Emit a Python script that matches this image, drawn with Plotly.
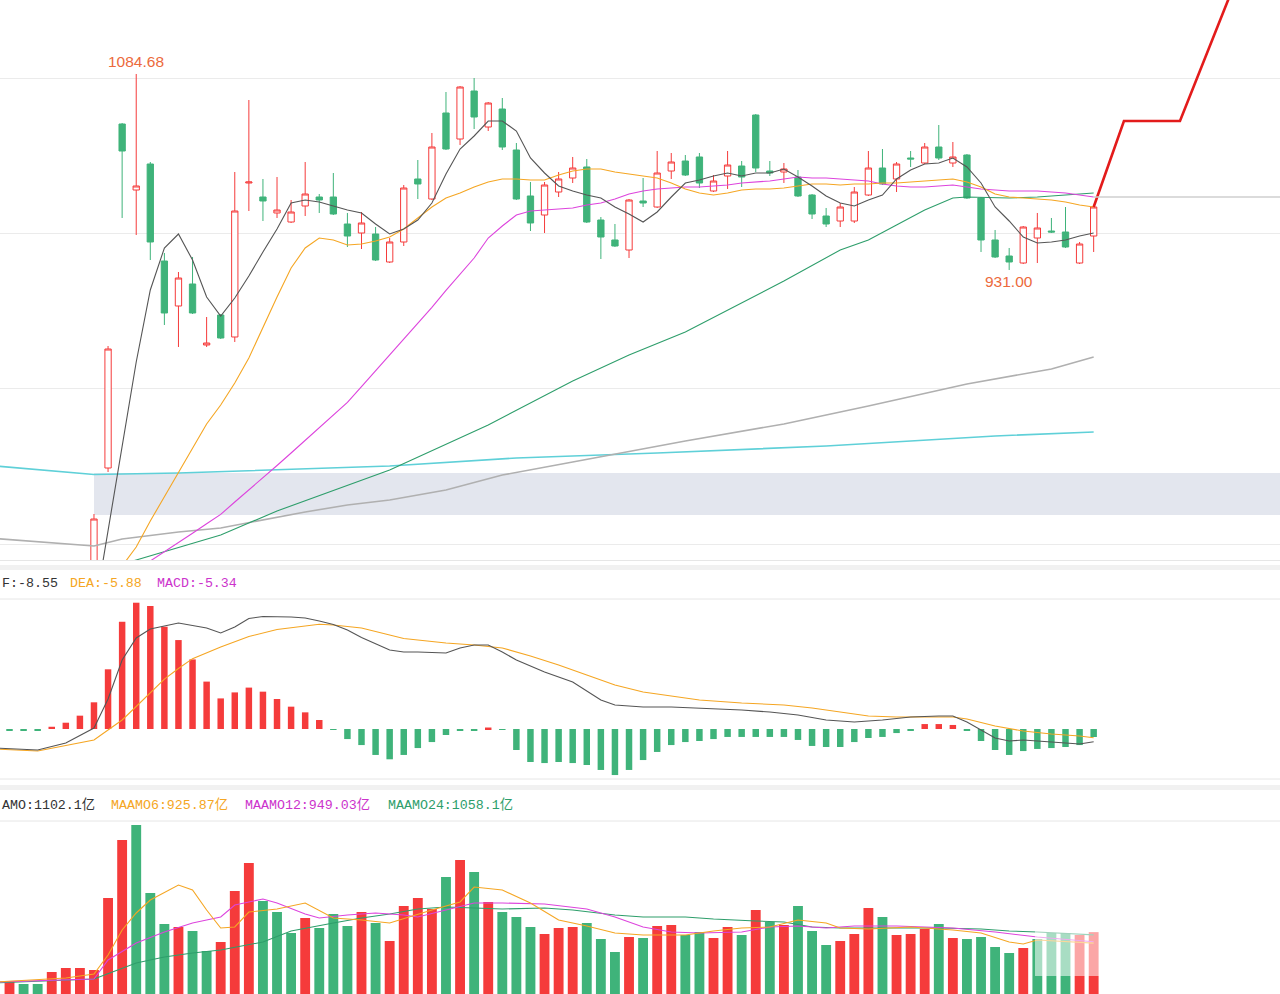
import plotly.graph_objects as go

W, H = 1280, 994
RED = "#f53b3b"
GREEN = "#3fb37a"
ORANGE = "#f5a623"
MAGENTA = "#dd44dd"
MA60C = "#2e9e6b"
DARK = "#555555"

# ---------------- price data (candles) ----------------
cand_idx = list(range(6, 78))
opens = [672.24, 775.74, 1045.47, 993.72, 1014.11, 938.05, 902.77, 920.02, 872.19, 895.71,
         878.46, 999.21, 988.23, 975.69, 968.63, 981.18, 988.23, 988.23, 967.06, 960.00,
         959.22, 937.27, 952.95, 1002.35, 986.66, 1054.10, 1033.71, 1071.35, 1043.12, 1057.23,
         1025.09, 989.02, 974.12, 992.15, 1003.13, 1011.76, 970.20, 954.52, 946.67, 985.10,
         980.39, 1008.62, 1016.46, 1019.60, 992.94, 1004.70, 1012.54, 1052.53, 1008.62, 1007.83,
         1003.91, 989.80, 973.33, 969.41, 969.41, 989.80, 1010.97, 1002.35, 1018.81, 1014.89,
         1027.44, 1014.89, 1021.16, 987.45, 954.52, 941.97, 936.48, 956.08, 961.57, 960.79,
         936.48, 957.65]
highs = [739.67, 871.40, 1046.26, 1084.68, 1015.67, 944.32, 929.42, 941.19, 894.14, 896.49,
         1007.83, 1064.29, 1002.35, 1003.91, 985.88, 1015.67, 990.58, 1007.05, 975.69, 976.47,
         964.71, 956.08, 997.64, 1017.24, 1038.41, 1070.56, 1075.27, 1081.54, 1062.72, 1065.86,
         1030.57, 1000.00, 1000.00, 1007.83, 1019.60, 1018.03, 972.55, 967.06, 986.66, 1003.13,
         1024.30, 1022.73, 1021.16, 1022.73, 1005.48, 1024.30, 1016.46, 1053.31, 1016.46, 1014.89,
         1009.40, 990.58, 979.61, 983.53, 996.07, 1024.30, 1025.87, 1015.67, 1024.30, 1030.57,
         1044.69, 1031.36, 1021.95, 988.23, 962.36, 948.25, 965.49, 975.69, 971.77, 980.39,
         952.95, 981.96]
lows = [664.40, 772.60, 971.77, 958.44, 938.83, 887.87, 870.62, 896.49, 870.62, 876.89,
        874.54, 977.25, 969.41, 971.77, 967.84, 973.33, 975.69, 974.12, 949.03, 947.46,
        938.05, 936.48, 949.81, 986.66, 985.88, 1025.09, 1029.01, 1041.55, 1039.98, 1025.09,
        985.88, 961.57, 960.00, 988.23, 999.21, 967.84, 939.62, 949.03, 940.40, 980.39,
        979.61, 1002.35, 1004.70, 995.29, 992.15, 994.51, 996.07, 1007.83, 1004.70, 999.21,
        988.23, 970.98, 964.71, 964.71, 967.84, 989.02, 997.64, 992.15, 1011.76, 1014.11,
        1017.24, 1011.76, 986.66, 945.11, 940.40, 931.00, 935.70, 936.48, 960.00, 948.25,
        935.70, 945.11]
closes = [735.75, 869.05, 1024.30, 996.86, 952.95, 897.28, 924.72, 897.28, 873.75, 877.67,
          977.25, 1000.00, 985.10, 978.04, 976.47, 990.58, 985.88, 974.90, 957.65, 967.85,
          938.83, 952.95, 995.29, 998.43, 1027.44, 1025.87, 1074.48, 1050.96, 1061.94, 1027.44,
          986.66, 967.85, 997.64, 1002.35, 1010.97, 968.63, 956.87, 949.81, 985.88, 983.53,
          1007.05, 1015.67, 1005.48, 999.21, 1000.78, 1013.32, 1003.91, 1010.97, 1007.05, 1010.19,
          989.02, 974.90, 967.06, 980.39, 992.15, 1010.97, 998.43, 1014.11, 1018.03, 1027.44,
          1018.81, 1019.60, 987.45, 954.52, 941.19, 937.27, 964.71, 963.93, 960.79, 949.03,
          951.38, 980.39]

# moving averages on price
ma5_idx = list(range(6, 78))
ma5 = [660.50, 727.13, 793.78, 858.86, 915.31, 948.24, 959.22, 938.83, 909.82, 894.92,
       909.04, 926.29, 945.11, 963.14, 983.53, 985.88, 984.31, 981.18, 978.04, 975.69,
       967.06, 959.22, 963.14, 970.20, 983.53, 1006.27, 1025.87, 1036.06, 1047.82, 1047.82,
       1039.98, 1018.81, 1007.05, 996.86, 992.94, 989.80, 987.45, 980.39, 974.90, 968.63,
       976.47, 988.23, 999.21, 1001.56, 1004.70, 1007.05, 1004.70, 1007.05, 1007.05, 1010.19,
       1003.91, 996.86, 989.02, 983.53, 981.18, 985.88, 989.80, 1002.35, 1009.40, 1014.11,
       1014.89, 1018.81, 1011.76, 999.21, 980.39, 969.41, 956.87, 952.16, 952.95, 954.52,
       957.65, 960.00]
ma10_idx = list(range(8, 78))
ma10 = [698.90, 713.80, 734.18, 753.00, 772.60, 791.42, 810.24, 825.14, 842.39, 861.99,
        886.30, 909.82, 932.56, 948.24, 956.08, 954.52, 950.60, 951.38, 953.73, 956.87,
        963.14, 971.77, 980.39, 987.45, 991.37, 996.07, 1000.00, 1002.35, 1002.35, 1001.56,
        1001.56, 1005.48, 1008.62, 1010.19, 1010.19, 1007.83, 1006.27, 1004.70, 1003.13, 999.21,
        994.51, 991.37, 989.80, 991.37, 993.72, 994.51, 994.51, 995.29, 996.86, 998.43,
        998.43, 997.64, 998.43, 998.43, 999.21, 999.21, 1000.00, 1000.78, 1001.56, 1002.35,
        1000.00, 996.07, 990.58, 988.23, 987.45, 986.66, 985.88, 984.31, 981.96, 980.39]
ma20_idx = list(range(10, 78))
ma20 = [702.82, 709.88, 717.25, 724.54, 731.99, 739.36, 749.08, 758.49, 767.90, 777.70,
        787.50, 797.30, 807.11, 816.83, 827.18, 839.57, 851.96, 864.34, 876.65, 888.96,
        901.75, 915.00, 927.86, 940.40, 956.08, 965.49, 974.12, 977.25, 978.04, 978.83,
        979.61, 981.96, 983.53, 986.66, 990.58, 992.94, 994.51, 995.29, 996.07, 996.07,
        996.86, 997.64, 999.21, 1000.00, 1000.78, 1002.35, 1003.91, 1003.13, 1003.13, 1002.35,
        1001.56, 1000.78, 998.43, 996.86, 996.07, 996.07, 996.86, 997.64, 996.07, 994.51,
        993.72, 992.94, 992.94, 992.94, 992.15, 991.37, 989.80, 988.23]
ma60_idx = [8, 9, 15, 19, 27, 34, 40, 44, 48, 55, 59, 61, 63, 65, 67, 68, 71, 73, 75, 77]
ma60 = [700.45, 703.60, 723.21, 742.02, 774.17, 809.46, 843.96, 864.34, 882.38, 922.37,
        946.67, 954.52, 966.28, 978.04, 987.45, 988.23, 987.45, 988.23, 989.80, 991.37]
ma120_idx = [-1, 6, 8, 12, 15, 19, 21, 24, 27, 31, 35, 40, 48, 55, 61, 68, 74, 77]
ma120 = [720.46, 714.58, 720.07, 725.56, 728.70, 737.32, 741.24, 746.73, 750.65, 758.49,
         770.25, 780.45, 796.91, 810.24, 824.36, 841.61, 853.37, 862.78]
ma250_idx = [-1, 6, 12, 19, 27, 36, 46, 58, 64, 70, 77]
ma250 = [777.31, 770.64, 771.82, 774.56, 777.31, 783.58, 787.50, 792.99, 796.91, 800.83, 803.97]

# projection line after the last candle
proj_idx = [77, 79.15, 83.13, 86.54, 87.68]
proj_price = [980.39, 1047.82, 1047.82, 1142.70, 1174.06]

# gap zone and reference levels
gap_zone = (738.89, 771.82)
gap_start = 6
last_level = 988.23
grid_levels = [1081.54, 960.00, 837.69, 715.37]
high_label = (9, 1084.68)
low_label = (71, 931.00)

# ---------------- MACD ----------------
macd_idx = list(range(0, 78))
macd_hist = [-0.7, -0.7, -0.7, 1.5, 4.2, 8.9, 17.8, 39.8, 71.5, 84.2,
             82.0, 68.2, 59.3, 46.4, 31.6, 20.4, 24.4, 27.6, 24.9, 20.0,
             14.9, 11.1, 6.0, -0.3, -6.7, -10.7, -17.3, -20.2, -17.3, -12.7,
             -8.7, -4.0, -1.0, -0.7, 1.0, -0.5, -14.0, -22.0, -22.7, -22.0,
             -22.7, -24.0, -27.3, -30.7, -27.3, -20.7, -15.3, -10.7, -8.7, -8.0,
             -6.7, -5.3, -5.3, -5.3, -5.3, -5.3, -7.3, -11.3, -12.0, -12.0,
             -8.7, -6.0, -5.3, -2.7, -0.7, 3.3, 3.3, 2.7, -1.0, -8.0,
             -14.0, -17.3, -14.7, -13.3, -12.7, -12.0, -10.7, -5.34]
dif_idx = [-1, 2, 4, 6, 7, 8, 9, 10, 12, 14, 15, 16, 17, 18, 20, 21, 22, 23, 24, 25,
           27, 28, 29, 31, 32, 33, 34, 35, 36, 38, 40, 42, 43, 45, 47, 49, 52, 54, 56, 58,
           60, 62, 64, 66, 67, 68, 69, 70, 71, 72, 74, 76, 77]
dif = [-12.67, -14.0, -9.33, 0.67, 20.0, 46.0, 60.67, 66.67, 70.67, 67.33, 64.0, 68.0, 73.67,
       75.0, 74.67, 74.0, 72.0, 69.67, 66.0, 61.0, 52.67, 51.33, 51.33, 50.67, 54.0, 56.0,
       56.0, 51.33, 46.0, 38.0, 31.33, 19.33, 16.0, 14.67, 14.67, 14.0, 12.67, 11.33, 9.33,
       6.0, 4.67, 6.0, 8.0, 8.67, 8.67, 4.67, -0.67, -6.0, -8.0, -7.33, -8.67, -10.0, -8.55]
dea_idx = [-1, 2, 6, 8, 9, 10, 11, 12, 13, 15, 17, 19, 22, 23, 25, 28, 31, 33, 35, 37,
           39, 41, 43, 45, 47, 49, 52, 55, 57, 59, 61, 63, 65, 67, 68, 70, 72, 74, 76, 77]
dea = [-13.33, -14.67, -7.33, 6.0, 15.0, 24.2, 33.3, 40.3, 46.9, 54.67, 61.7, 66.3, 69.8,
       69.3, 67.3, 60.3, 57.33, 56.0, 54.0, 48.67, 42.67, 36.0, 29.33, 24.67, 22.0, 19.33,
       17.33, 16.0, 14.0, 11.33, 8.67, 8.0, 8.0, 8.0, 6.67, 2.0, -1.33, -3.33, -4.67, -5.88]
# the first label is shown truncated at the left edge in the source picture
macd_labels = ["F:-8.55", "DEA:-5.88", "MACD:-5.34"]

# ---------------- turnover (AMO, 亿) ----------------
vol_idx = list(range(0, 78))
amo = [304, 272, 272, 464, 528, 528, 496, 1648, 2576, 2816,
       1728, 1232, 1184, 1120, 800, 944, 1760, 2208, 1600, 1424,
       1088, 1328, 1168, 1392, 1200, 1424, 1248, 960, 1520, 1648,
       1472, 1984, 2256, 2064, 1584, 1424, 1344, 1184, 1072, 1168,
       1184, 1248, 992, 784, 1024, 1008, 1200, 1216, 1056, 1104,
       1008, 1184, 1056, 1456, 1264, 1216, 1520, 1120, 896, 960,
       1072, 1488, 1344, 1056, 1072, 1152, 1232, 1008, 992, 1024,
       864, 768, 848, 992, 1088, 1088, 1056, 1102.1]
amo_dir = [1, -1, -1, 1, 1, 1, 1, 1, 1, -1,
           -1, -1, 1, -1, -1, 1, 1, 1, -1, -1,
           -1, 1, -1, -1, -1, 1, -1, 1, 1, 1,
           1, -1, 1, -1, 1, -1, -1, -1, 1, 1,
           1, -1, -1, -1, 1, -1, 1, 1, -1, -1,
           1, 1, -1, 1, -1, 1, -1, -1, -1, 1,
           1, 1, -1, 1, 1, 1, -1, 1, -1, -1,
           -1, -1, 1, -1, -1, -1, 1, 1]
maamo6_idx = [-1, 4, 6, 7, 8, 9, 10, 12, 13, 14, 15, 16, 17, 19, 21, 23, 25, 27, 30, 32,
              33, 35, 37, 39, 41, 43, 45, 48, 50, 52, 54, 56, 58, 59, 61, 64, 65, 67, 69, 71,
              72, 73, 77]
maamo6 = [304, 368, 432, 736, 1136, 1408, 1616, 1856, 1776, 1456, 1168, 1184, 1424, 1472,
          1568, 1328, 1296, 1248, 1456, 1584, 1824, 1776, 1568, 1296, 1200, 1088, 1056, 1056,
          1120, 1168, 1184, 1296, 1248, 1168, 1152, 1184, 1168, 1136, 1088, 944, 912, 976, 925.87]
maamo12_idx = [-1, 6, 7, 9, 11, 13, 14, 15, 16, 18, 19, 21, 22, 24, 26, 28, 29, 31, 33, 35,
               38, 41, 43, 45, 47, 49, 52, 54, 56, 58, 60, 63, 65, 67, 70, 72, 73, 77]
maamo12 = [304, 352, 656, 928, 1104, 1248, 1296, 1344, 1536, 1632, 1568, 1392, 1328, 1376,
           1408, 1376, 1344, 1456, 1568, 1568, 1552, 1472, 1344, 1184, 1104, 1088, 1104, 1184,
           1200, 1168, 1200, 1200, 1184, 1168, 1104, 1056, 1024, 949.03]
maamo24_idx = [-1, 6, 9, 11, 13, 15, 18, 20, 23, 25, 27, 29, 31, 35, 38, 40, 43, 45, 48, 50,
               53, 55, 57, 59, 61, 64, 66, 69, 71, 73, 77]
maamo24 = [288, 352, 608, 704, 768, 816, 944, 1120, 1248, 1328, 1392, 1472, 1504, 1472, 1488,
           1456, 1376, 1344, 1344, 1312, 1280, 1264, 1184, 1168, 1168, 1168, 1168, 1152, 1120,
           1104, 1058.1]
amo_labels = ["AMO:1102.1亿", "MAAMO6:925.87亿", "MAAMO12:949.03亿", "MAAMO24:1058.1亿"]

# ---------------- layout helpers (pixel geometry) ----------------
def py(p):
    return 1 - p / H

def px(p):
    return p / W

X_RANGE = [-0.6747, 90.234]
MAIN_DOM = [py(560), 1]
MACD_DOM = [py(779), py(599)]
VOL_DOM = [0, py(821)]

fig = go.Figure()

fig.add_trace(go.Candlestick(
    x=cand_idx, open=opens, high=highs, low=lows, close=closes,
    increasing=dict(line=dict(color=RED, width=1), fillcolor="#ffffff"),
    decreasing=dict(line=dict(color=GREEN, width=1), fillcolor=GREEN),
    whiskerwidth=0, xaxis="x", yaxis="y", hoverinfo="skip", showlegend=False))

def line(xs, ys, color, width, yaxis):
    fig.add_trace(go.Scatter(x=xs, y=ys, mode="lines", line=dict(color=color, width=width),
                             xaxis="x", yaxis=yaxis, hoverinfo="skip", showlegend=False,
                             cliponaxis=True))

line(ma250_idx, ma250, "#5fd0d8", 1.6, "y")
line(ma120_idx, ma120, "#b0b0b0", 1.6, "y")
line(ma60_idx, ma60, MA60C, 1.1, "y")
line(ma20_idx, ma20, MAGENTA, 1.1, "y")
line(ma10_idx, ma10, ORANGE, 1.1, "y")
line(ma5_idx, ma5, DARK, 1.1, "y")
line(proj_idx, proj_price, "#e31b1b", 2.6, "y")

# MACD
fig.add_trace(go.Bar(x=macd_idx, y=macd_hist, width=0.46,
                     marker=dict(color=[RED if v > 0 else GREEN for v in macd_hist], line=dict(width=0)),
                     xaxis="x", yaxis="y2", hoverinfo="skip", showlegend=False))
line(dea_idx, dea, ORANGE, 1.1, "y2")
line(dif_idx, dif, DARK, 1.1, "y2")

# AMO
fig.add_trace(go.Bar(x=vol_idx, y=amo, width=0.7,
                     marker=dict(color=[RED if d > 0 else GREEN for d in amo_dir], line=dict(width=0)),
                     xaxis="x", yaxis="y3", hoverinfo="skip", showlegend=False))
line(maamo24_idx, maamo24, MA60C, 1.1, "y3")
line(maamo12_idx, maamo12, MAGENTA, 1.1, "y3")
line(maamo6_idx, maamo6, ORANGE, 1.1, "y3")

shapes = []
# gap zone
shapes.append(dict(type="rect", xref="x", yref="y", x0=gap_start, x1=X_RANGE[1] + 2,
                   y0=gap_zone[0], y1=gap_zone[1], fillcolor="#e3e6ee", line=dict(width=0),
                   layer="below"))
# last level line
shapes.append(dict(type="line", xref="x", yref="y", x0=cand_idx[-1], x1=X_RANGE[1] + 2,
                   y0=last_level, y1=last_level, line=dict(color="#cfcfcf", width=1.5)))
# panel borders / separators
for yy in [560.5, 599, 779, 821]:
    shapes.append(dict(type="line", xref="paper", yref="paper", x0=0, x1=1, y0=py(yy), y1=py(yy),
                       line=dict(color="#e6e6e6", width=1)))
for a, b in [(565, 570), (785, 790)]:
    shapes.append(dict(type="rect", xref="paper", yref="paper", x0=0, x1=1, y0=py(b), y1=py(a),
                       fillcolor="#f1f1f1", line=dict(width=0)))
# faded watermark area
shapes.append(dict(type="rect", xref="paper", yref="paper", x0=px(1035), x1=px(1262),
                   y0=py(976), y1=py(928), fillcolor="rgba(255,255,255,0.55)", line=dict(width=0),
                   layer="above"))

LBL_FONT = "Liberation Mono, Noto Sans CJK SC, monospace"
annotations = []
for txt, x0, col in zip(macd_labels, [0, 68, 155], ["#333333", ORANGE, "#cc33cc"]):
    annotations.append(dict(text=txt, xref="paper", yref="paper", x=px(x0), y=py(583),
                            xanchor="left", yanchor="middle", showarrow=False,
                            font=dict(family=LBL_FONT, size=13.3, color=col)))
for txt, x0, col in zip(amo_labels, [0, 109, 243, 386], ["#333333", ORANGE, "#cc33cc", MA60C]):
    annotations.append(dict(text=txt, xref="paper", yref="paper", x=px(x0), y=py(805),
                            xanchor="left", yanchor="middle", showarrow=False,
                            font=dict(family=LBL_FONT, size=13.3, color=col)))
annotations.append(dict(text=f"{high_label[1]:.2f}", xref="x", yref="y", x=high_label[0],
                        y=high_label[1], yshift=2, yanchor="bottom", showarrow=False,
                        font=dict(family="Liberation Sans, Arial", size=15.5, color="#ec6a3c")))
annotations.append(dict(text=f"{low_label[1]:.2f}", xref="x", yref="y", x=low_label[0],
                        y=low_label[1], yshift=-1, yanchor="top", showarrow=False,
                        font=dict(family="Liberation Sans, Arial", size=15.5, color="#ec6a3c")))

fig.update_layout(
    width=W, height=H, margin=dict(l=0, r=0, t=0, b=0),
    paper_bgcolor="white", plot_bgcolor="white", showlegend=False,
    boxgap=0.36,
    xaxis=dict(range=X_RANGE, domain=[0, 1], anchor="y3", showticklabels=False, showgrid=False,
               zeroline=False, showline=False, ticks="", rangeslider=dict(visible=False)),
    yaxis=dict(domain=MAIN_DOM, range=[703.60, 1142.70], tickvals=grid_levels, showticklabels=False,
               showgrid=True, gridcolor="#ebebeb", gridwidth=1, zeroline=False, ticks=""),
    yaxis2=dict(domain=MACD_DOM, range=[-33.33, 86.67], showticklabels=False, showgrid=False,
                zeroline=False, ticks=""),
    yaxis3=dict(domain=VOL_DOM, range=[112, 2880], showticklabels=False, showgrid=False,
                zeroline=False, ticks=""),
    shapes=shapes, annotations=annotations,
)

fig.write_html("out.html", config={"displayModeBar": False},
               post_script="document.body.style.margin='0';document.body.style.overflow='hidden';")
